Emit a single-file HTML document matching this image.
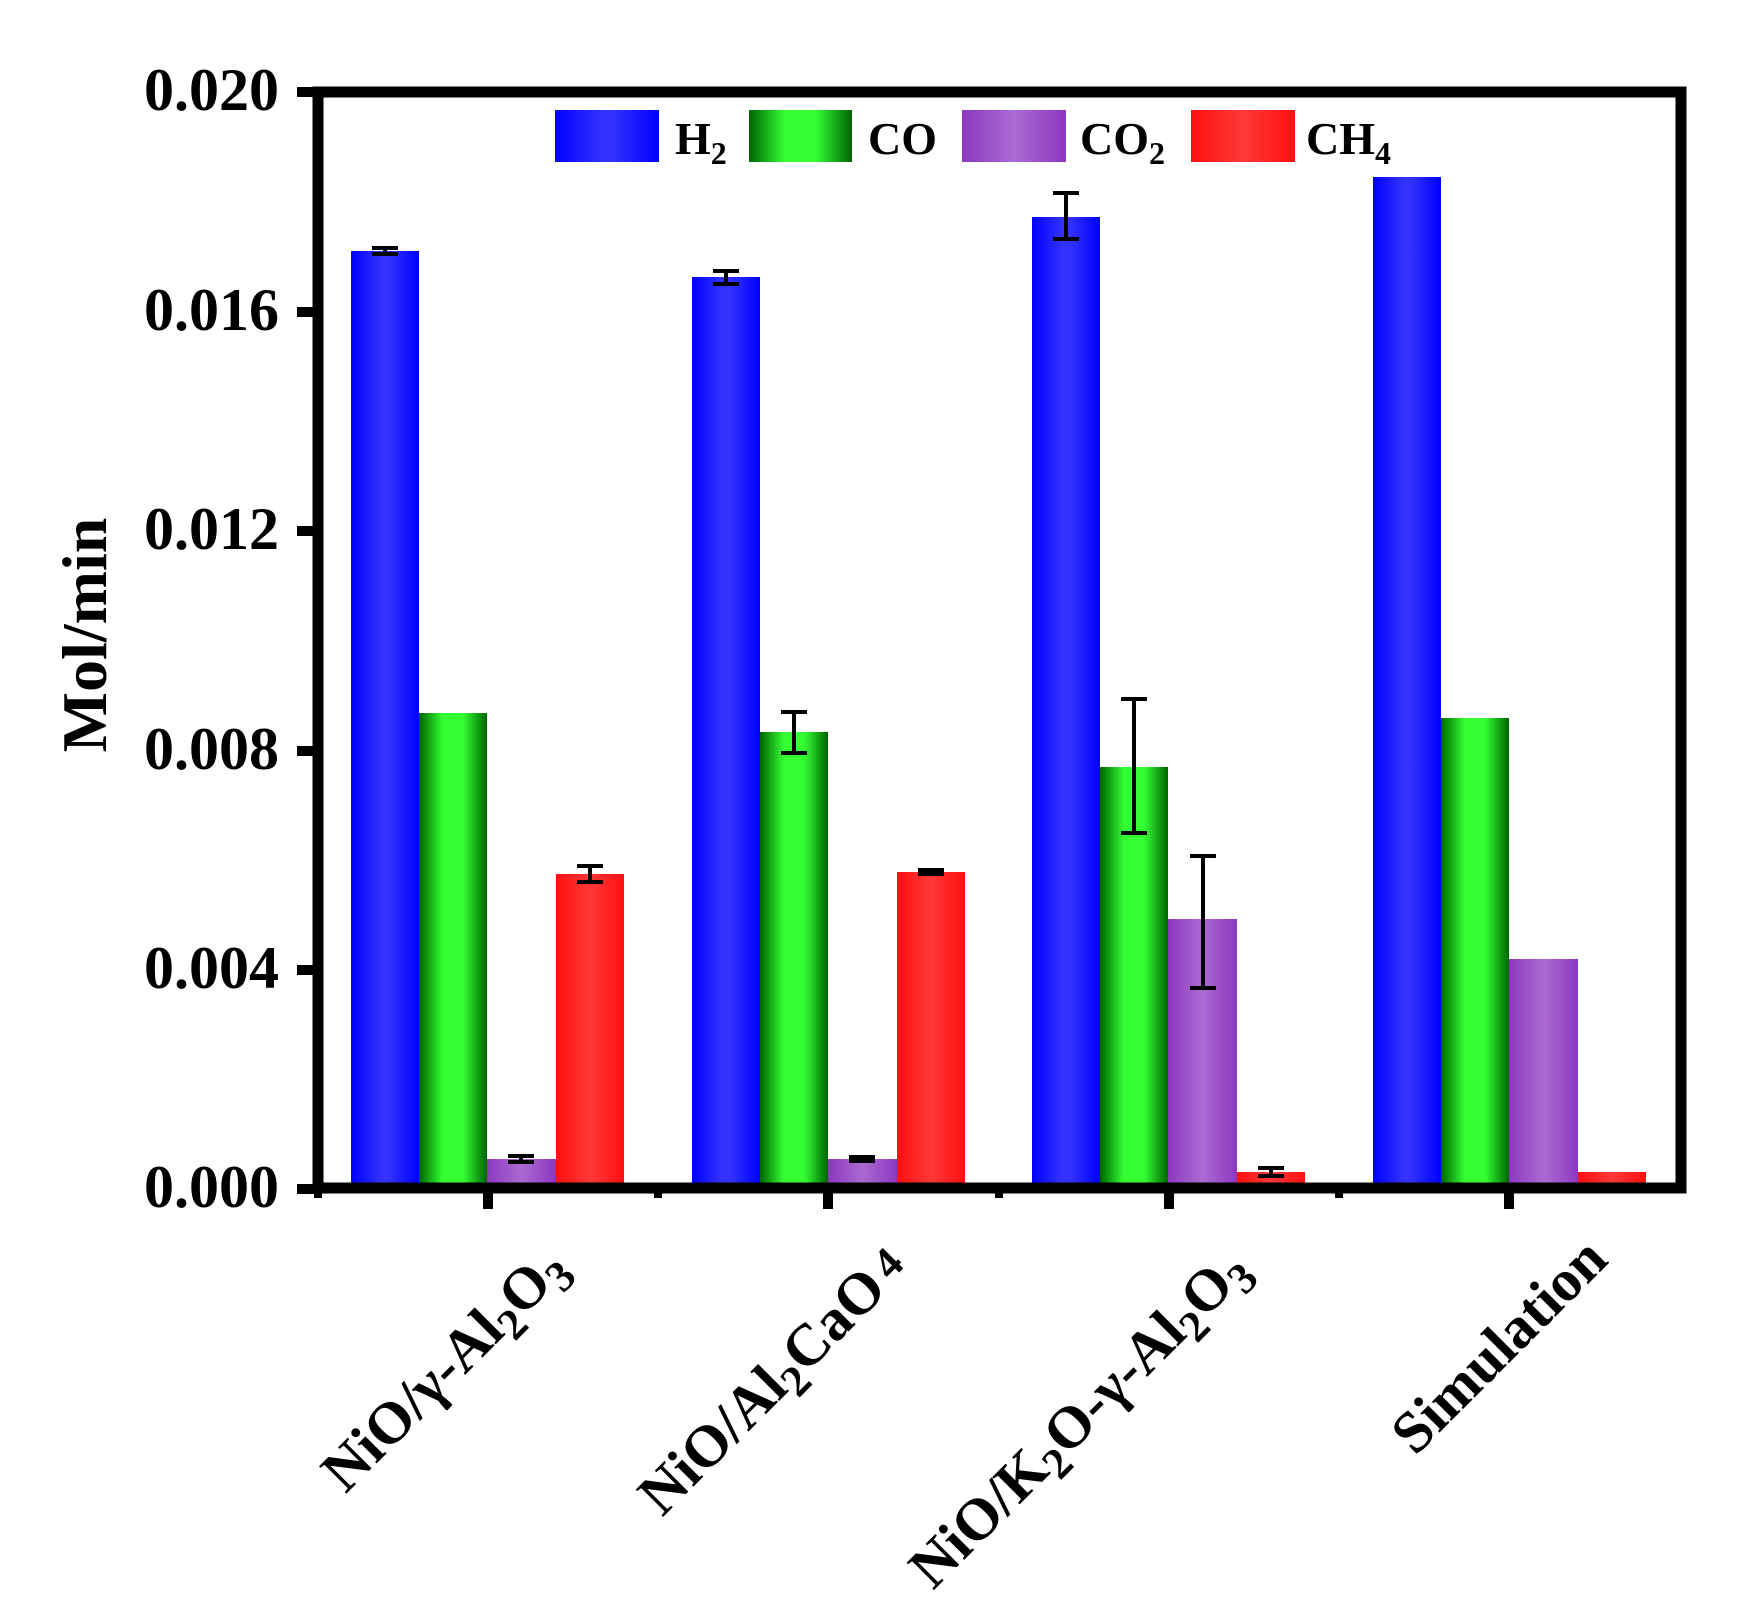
<!DOCTYPE html>
<html><head><meta charset="utf-8"><style>html,body{margin:0;padding:0;background:#fff}svg{display:block}text{font-family:"Liberation Serif","DejaVu Serif",serif;font-weight:bold}</style></head>
<body>
<svg width="1744" height="1603" viewBox="0 0 1744 1603" xmlns="http://www.w3.org/2000/svg">
<defs>
<linearGradient id="gb" x1="0" x2="1" y1="0" y2="0"><stop offset="0" stop-color="#0000ff"/><stop offset="0.45" stop-color="#3333ff"/><stop offset="0.55" stop-color="#3333ff"/><stop offset="1" stop-color="#0000ff"/></linearGradient>
<linearGradient id="gg" x1="0" x2="1" y1="0" y2="0"><stop offset="0" stop-color="#006400"/><stop offset="0.35" stop-color="#33ff33"/><stop offset="0.65" stop-color="#33ff33"/><stop offset="1" stop-color="#006400"/></linearGradient>
<linearGradient id="gp" x1="0" x2="1" y1="0" y2="0"><stop offset="0" stop-color="#8c38bf"/><stop offset="0.5" stop-color="#ab6ad2"/><stop offset="1" stop-color="#8c38bf"/></linearGradient>
<linearGradient id="gr" x1="0" x2="1" y1="0" y2="0"><stop offset="0" stop-color="#ff1010"/><stop offset="0.5" stop-color="#ff3838"/><stop offset="1" stop-color="#ff1010"/></linearGradient>
</defs>
<rect x="351" y="251" width="68" height="938" fill="url(#gb)"/>
<rect x="419" y="713" width="68" height="476" fill="url(#gg)"/>
<rect x="487" y="1159" width="69" height="30" fill="url(#gp)"/>
<rect x="556" y="874" width="68" height="315" fill="url(#gr)"/>
<rect x="692" y="277" width="68" height="912" fill="url(#gb)"/>
<rect x="760" y="732" width="68" height="457" fill="url(#gg)"/>
<rect x="828" y="1159" width="69" height="30" fill="url(#gp)"/>
<rect x="897" y="872" width="68" height="317" fill="url(#gr)"/>
<rect x="1032" y="217" width="68" height="972" fill="url(#gb)"/>
<rect x="1100" y="767" width="68" height="422" fill="url(#gg)"/>
<rect x="1168" y="919" width="69" height="270" fill="url(#gp)"/>
<rect x="1237" y="1172" width="68" height="17" fill="url(#gr)"/>
<rect x="1373" y="177" width="68" height="1012" fill="url(#gb)"/>
<rect x="1441" y="718" width="68" height="471" fill="url(#gg)"/>
<rect x="1509" y="959" width="69" height="230" fill="url(#gp)"/>
<rect x="1578" y="1172" width="68" height="17" fill="url(#gr)"/>
<g stroke="#000" stroke-width="4" fill="none">
<path d="M385 248v6M372 248h26M372 254h26"/>
<path d="M590 866v16M577 866h26M577 882h26"/>
<path d="M521 1156v6M508 1156h26M508 1162h26"/>
<path d="M726 271v13M713 271h26M713 284h26"/>
<path d="M794 712v41M781 712h26M781 753h26"/>
<path d="M931 870v4M918 870h26M918 874h26"/>
<path d="M862 1157v4M849 1157h26M849 1161h26"/>
<path d="M1066 193v46M1053 193h26M1053 239h26"/>
<path d="M1134 699v134M1121 699h26M1121 833h26"/>
<path d="M1203 856v132M1190 856h26M1190 988h26"/>
<path d="M1271 1168v8M1258 1168h26M1258 1176h26"/>
</g>
<rect x="318" y="92" width="1363" height="1096" fill="none" stroke="#000" stroke-width="11"/>
<g stroke="#000" stroke-width="10">
<path d="M297 92h21M297 312h21M297 531h21M297 751h21M297 970h21M297 1189h21"/>
<path d="M488 1188v21M828 1188v21M1169 1188v21M1509 1188v21"/>
</g>
<g stroke="#000" stroke-width="8">
<path d="M318 1188v10M658 1188v10M999 1188v10M1339 1188v10"/>
</g>
<g font-size="60" text-anchor="end">
<text x="279" y="110">0.020</text>
<text x="279" y="330">0.016</text>
<text x="279" y="549">0.012</text>
<text x="279" y="769">0.008</text>
<text x="279" y="988">0.004</text>
<text x="279" y="1207">0.000</text>
</g>
<text transform="translate(106,635) rotate(-90)" font-size="64" text-anchor="middle">Mol/min</text>
<rect x="555" y="110" width="104" height="52" fill="url(#gb)"/>
<rect x="749" y="110" width="103" height="52" fill="url(#gg)"/>
<rect x="962" y="110" width="104" height="52" fill="url(#gp)"/>
<rect x="1191" y="110" width="104" height="52" fill="url(#gr)"/>
<g font-size="46">
<text x="675" y="154">H<tspan font-size="32" dy="10">2</tspan></text>
<text x="868" y="154">CO</text>
<text x="1080" y="154">CO<tspan font-size="32" dy="10">2</tspan></text>
<text x="1306" y="154">CH<tspan font-size="32" dy="10">4</tspan></text>
</g>
<g font-size="59" text-anchor="end">
<text transform="translate(570,1270) rotate(-45)">NiO/γ-Al<tspan font-size="44" dy="12">2</tspan><tspan dy="-12">O</tspan><tspan font-size="44" dy="12">3</tspan></text>
<text transform="translate(910,1270) rotate(-45)">NiO/Al<tspan font-size="44" dy="12">2</tspan><tspan dy="-12">CaO</tspan><tspan font-size="44" dx="8" dy="-6">4</tspan></text>
<text transform="translate(1252,1272) rotate(-45)">NiO/K<tspan font-size="44" dy="12">2</tspan><tspan dy="-12">O-γ-Al</tspan><tspan font-size="44" dy="12">2</tspan><tspan dy="-12">O</tspan><tspan font-size="44" dy="12">3</tspan></text>
<text transform="translate(1610,1262) rotate(-45)">Simulation</text>
</g>
</svg>
</body></html>
